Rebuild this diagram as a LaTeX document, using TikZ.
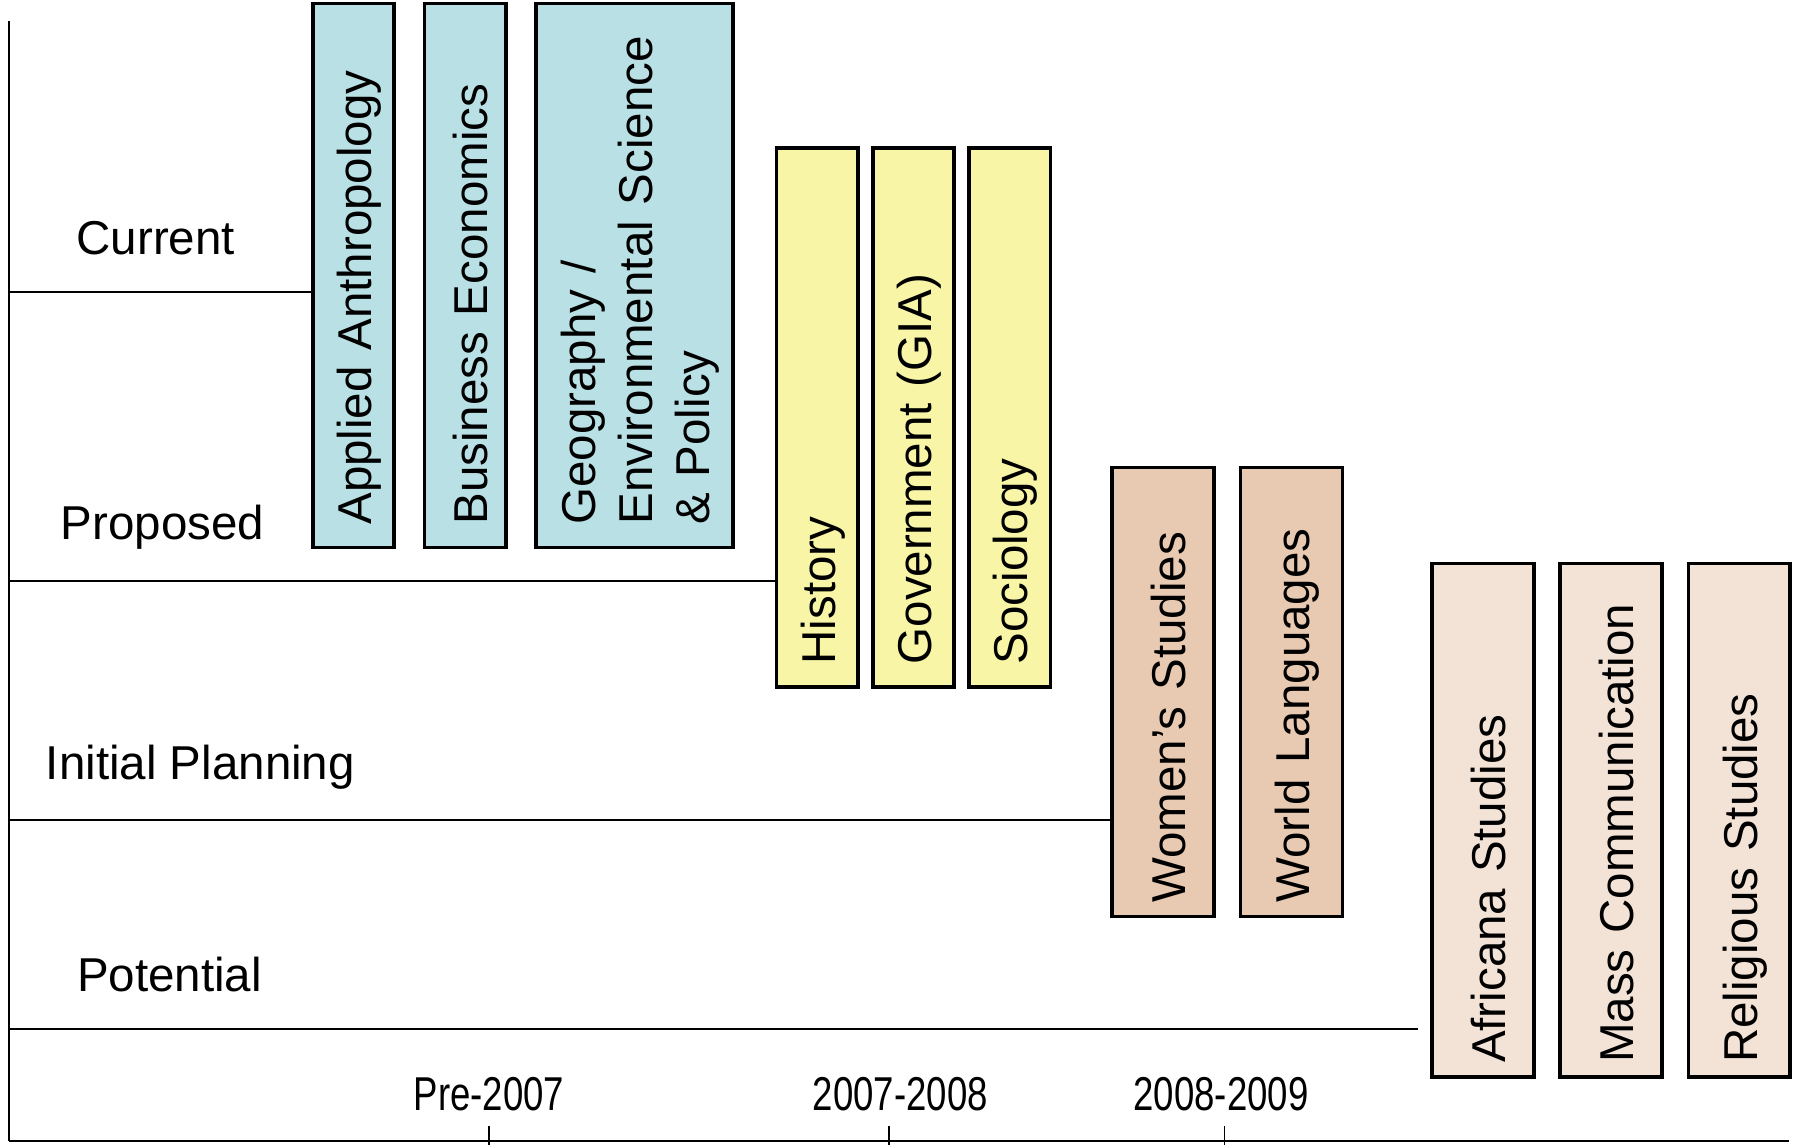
\documentclass[tikz,border=0pt]{standalone}
\usepackage{fontspec}
\setmainfont{Liberation Sans}
\usepackage{graphicx}

\definecolor{curblue}{HTML}{B9E0E4}
\definecolor{propyellow}{HTML}{F8F5A6}
\definecolor{plantan}{HTML}{E8C9B2}
\definecolor{pottan}{HTML}{F3E3D7}

\begin{document}
\begin{tikzpicture}[x=0.1mm, y=-0.1mm,
  every node/.style = {font=\fontsize{11.8}{14.2}\selectfont},
  course/.style = {draw, line width=0.9pt, rotate=90, align=left, inner ysep=0pt, text height=4mm},
  curbox/.style = {course, fill=curblue, minimum width=47.5mm, text width=43.5mm, inner xsep=2mm},
  propbox/.style = {course, fill=propyellow, minimum width=47.1mm, text width=43.1mm, inner xsep=2mm},
  planbox/.style = {course, fill=plantan, minimum width=39.2mm, text width=36.8mm, inner xsep=1.2mm, minimum height=8.9mm},
  potbox/.style = {course, fill=pottan, minimum width=44.8mm, text width=42.4mm, inner xsep=1.2mm, minimum height=8.9mm},
  year/.style = {inner sep=0pt}]
\useasboundingbox (0,0) rectangle (1568,1000);

\node[curbox, minimum height=7.1mm]  (applied)  at (308.5,240.5) {Applied Anthropology};
\node[curbox, minimum height=7.1mm]  (business) at (406,240.5) {Business Economics};
\node[curbox, minimum height=17.2mm] (geo)      at (554,240.5) {Geography /\\Environmental Science\\\& Policy};

\node[propbox, minimum height=7.1mm] (history)    at (713.5,364.5) {History};
\node[propbox, minimum height=7.1mm] (government) at (797.5,364.5) {Government (GIA)};
\node[propbox, minimum height=7.1mm] (sociology)  at (881.5,364.5) {Sociology};

\node[planbox] (womens) at (1015.5,604) {Women’s Studies};
\node[planbox] (world)  at (1127.5,604) {World Languages};

\node[potbox] (africana)  at (1294.5,716) {Africana Studies};
\node[potbox] (masscomm)  at (1406.5,716) {Mass Communication};
\node[potbox] (religious) at (1518.5,716) {Religious Studies};

\node (current)  at (136,208) {Current};
\node (proposed) at (142,460) {Proposed};
\node (initial)  at (175,670) {Initial Planning};
\node (potential) at (148,851) {Potential};

\node[year] (pre)  at (427,955) {\scalebox{0.77}[1]{Pre-2007}};
\node[year] (y0708) at (786,955) {\scalebox{0.77}[1]{2007-2008}};
\node[year] (y0809) at (1066,955) {\scalebox{0.77}[1]{2008-2009}};

\coordinate (top) at (8,18);
\coordinate (origin) at (8,996);
\coordinate (end) at (1562,996);
\coordinate (c0) at (8,255);
\coordinate (p0) at (8,507);
\coordinate (i0) at (8,716);
\coordinate (t0) at (8,898);
\coordinate (t1) at (1238,898);

\draw[line width=0.5pt] (top) -- (origin);
\draw[line width=0.6pt] (origin) -- (end);
\draw[line width=0.5pt] (c0) -- (c0 -| applied.north);
\draw[line width=0.5pt] (p0) -- (p0 -| history.north);
\draw[line width=0.5pt] (i0) -- (i0 -| womens.north);
\draw[line width=0.5pt] (t0) -- (t1);

\foreach \x in {427,776,1069}
  \draw[line width=0.4pt] (\x,983) -- (\x,1000);
\end{tikzpicture}
\end{document}
